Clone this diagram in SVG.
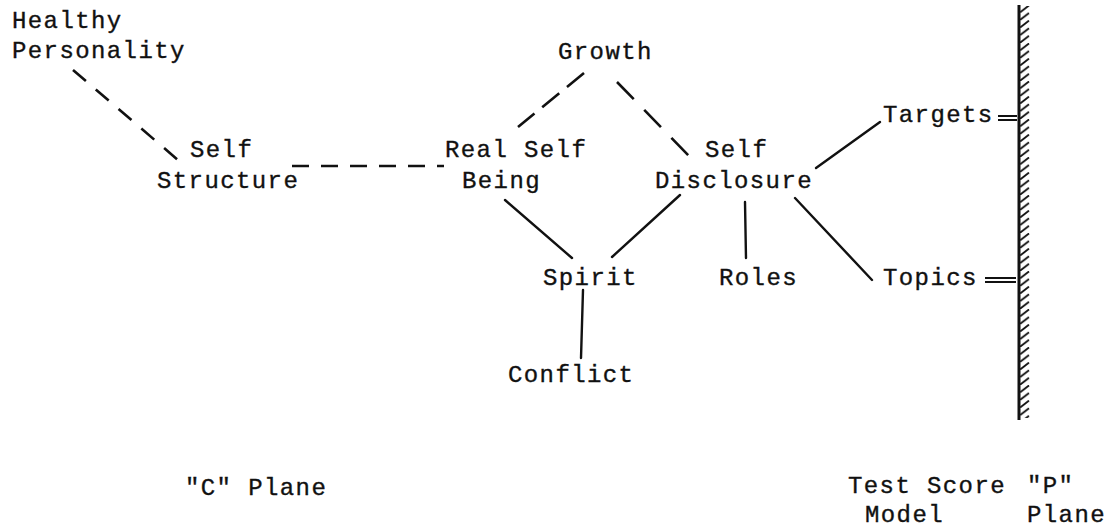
<svg xmlns="http://www.w3.org/2000/svg" width="1114" height="529" viewBox="0 0 1114 529">
<style>
  .t { font-family: "Liberation Mono", "DejaVu Sans Mono", monospace; font-size: 24px; letter-spacing: 1.4px; fill: #111; stroke: #111; stroke-width: 0.35; }
  .c { stroke: #111; stroke-width: 2.4; fill: none; stroke-linecap: round; }
  .d { stroke: #111; stroke-width: 2.6; fill: none; stroke-linecap: butt; }
  .eq { stroke: #111; stroke-width: 2; fill: none; }
</style>
<defs>
  <pattern id="hatch" patternUnits="userSpaceOnUse" x="1019" y="5" width="14" height="7.6">
    <path d="M1,7.4 L10,0.4" stroke="#111" stroke-width="1.8" fill="none"/>
  </pattern>
</defs>
<rect width="1114" height="529" fill="#fff"/>

<g id="connectors">
  <line class="d" x1="73" y1="70" x2="178" y2="160" stroke-dasharray="17 13"/>
  <line class="d" x1="292" y1="166" x2="444" y2="166" stroke-dasharray="17 12"/>
  <line class="d" x1="584" y1="73" x2="518" y2="127" stroke-dasharray="22 10"/>
  <line class="d" x1="617" y1="82" x2="690" y2="157" stroke-dasharray="24 15"/>
  <line class="c" x1="505" y1="200" x2="572" y2="258"/>
  <line class="c" x1="680" y1="195" x2="612" y2="257"/>
  <line class="c" x1="583" y1="290" x2="581" y2="358"/>
  <line class="c" x1="745" y1="202" x2="746" y2="258"/>
  <line class="c" x1="816" y1="168" x2="880" y2="122"/>
  <line class="c" x1="795" y1="198" x2="872" y2="280"/>
  <path class="eq" d="M998,116 H1017 M998,120 H1017"/>
  <path class="eq" d="M985,278 H1016 M985,282 H1016"/>
</g>

<g id="p-plane-wall">
  <rect x="1020" y="6" width="13" height="412" fill="url(#hatch)"/>
  <line x1="1019" y1="5" x2="1019" y2="420" stroke="#111" stroke-width="3"/>
</g>

<g id="healthy-personality">
  <text class="t" x="12" y="28">Healthy</text>
  <text class="t" x="12" y="58">Personality</text>
</g>
<g id="self-structure">
  <text class="t" x="190" y="157">Self</text>
  <text class="t" x="157" y="188">Structure</text>
</g>
<g id="growth">
  <text class="t" x="558" y="59">Growth</text>
</g>
<g id="real-self-being">
  <text class="t" x="445" y="157">Real Self</text>
  <text class="t" x="462" y="188">Being</text>
</g>
<g id="self-disclosure">
  <text class="t" x="705" y="157">Self</text>
  <text class="t" x="655" y="188">Disclosure</text>
</g>
<g id="targets">
  <text class="t" x="883" y="122">Targets</text>
</g>
<g id="spirit">
  <text class="t" x="543" y="285">Spirit</text>
</g>
<g id="roles">
  <text class="t" x="719" y="285">Roles</text>
</g>
<g id="topics">
  <text class="t" x="883" y="285">Topics</text>
</g>
<g id="conflict">
  <text class="t" x="508" y="382">Conflict</text>
</g>
<g id="c-plane">
  <text class="t" x="185" y="495">"C" Plane</text>
</g>
<g id="test-score-model">
  <text class="t" x="848" y="493">Test Score</text>
  <text class="t" x="865" y="522">Model</text>
</g>
<g id="p-plane">
  <text class="t" x="1027" y="493">"P"</text>
  <text class="t" x="1027" y="522">Plane</text>
</g>
</svg>
